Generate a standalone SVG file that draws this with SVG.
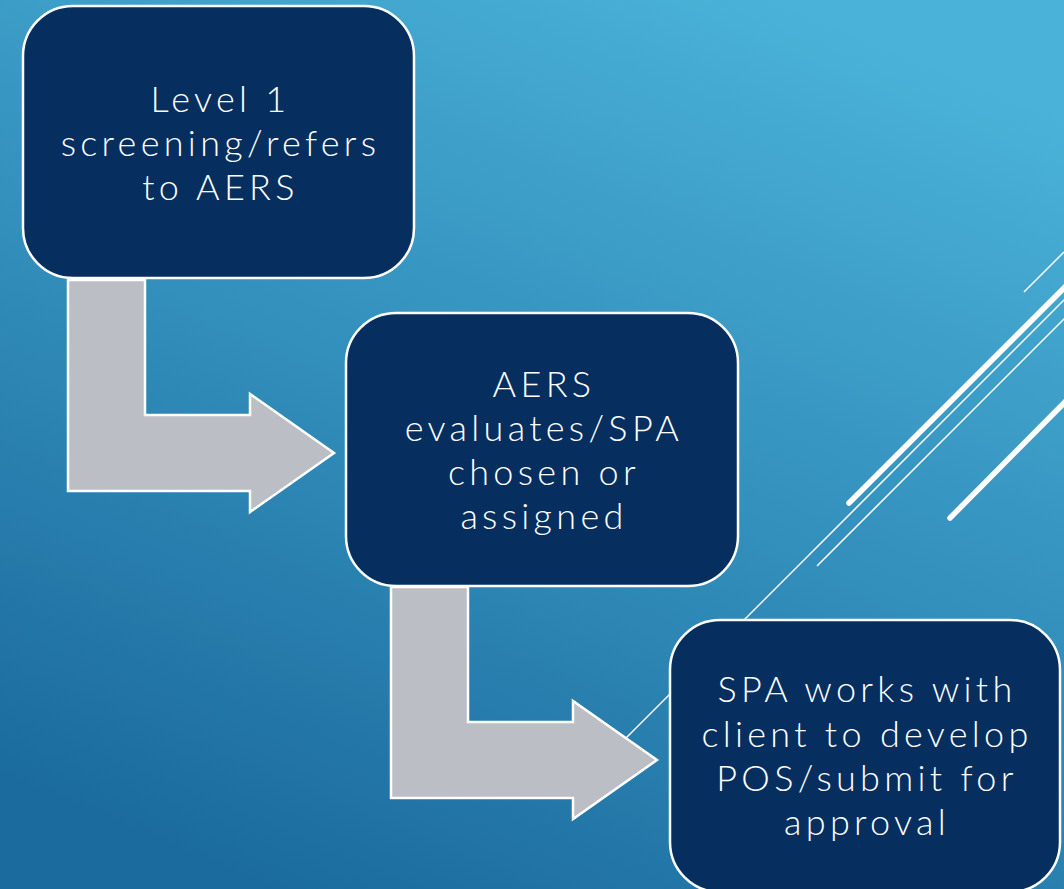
<svg xmlns="http://www.w3.org/2000/svg" width="1064" height="889" viewBox="0 0 1064 889">
  <defs>
    <linearGradient id="bg" x1="0.75" y1="0" x2="0.25" y2="1">
      <stop offset="0" stop-color="#4AB2D8"/>
      <stop offset="1" stop-color="#1B6B9E"/>
    </linearGradient>
    <style>
      .box { fill: #062F5F; stroke: #FFFFFF; stroke-width: 2.5; }
      .arrow { fill: #BCBEC5; stroke: #FFFFFF; stroke-width: 2.5; stroke-linejoin: miter; }
      .label { font-family: Lato, "Liberation Sans", sans-serif; font-weight: 300; font-size: 36px; letter-spacing: 4.3px; fill: #FFFFFF; text-anchor: middle; }
      .thin { stroke: #FFFFFF; stroke-width: 1.5; fill: none; }
      .thick { stroke: #FFFFFF; stroke-width: 5.5; stroke-linecap: round; fill: none; }
    </style>
  </defs>

  <!-- background -->
  <rect x="0" y="0" width="1064" height="889" fill="url(#bg)"/>

  <!-- decorative diagonal strokes -->
  <g id="decor">
    <line class="thin" x1="1024" y1="292" x2="1064" y2="252"/>
    <line class="thick" x1="849" y1="503" x2="1066" y2="286"/>
    <line class="thin" x1="620" y1="744" x2="1066" y2="298"/>
    <line class="thin" x1="817" y1="566" x2="1066" y2="317"/>
    <line class="thick" x1="950" y1="518" x2="1066" y2="401"/>
  </g>

  <!-- connectors: bent arrows -->
  <g id="connectors">
    <path class="arrow" d="M68,280 H145 V415 H250 V394 L334,453 L250,512 V491 H68 Z"/>
    <path class="arrow" d="M391,587 H468 V722 H573 V701 L657,760 L573,819 V798 H391 Z"/>
  </g>

  <g id="node1">
    <rect class="box" x="23" y="6" width="391" height="272" rx="50" ry="50"/>
    <text class="label" x="220.5" y="112">Level 1</text>
    <text class="label" x="220.5" y="156">screening/refers</text>
    <text class="label" x="220.5" y="200">to AERS</text>
  </g>

  <g id="node2">
    <rect class="box" x="346" y="313" width="392" height="273" rx="50" ry="50"/>
    <text class="label" x="544" y="397">AERS</text>
    <text class="label" x="544" y="441">evaluates/SPA</text>
    <text class="label" x="544" y="485">chosen or</text>
    <text class="label" x="544" y="529">assigned</text>
  </g>

  <g id="node3">
    <rect class="box" x="670" y="620" width="390" height="272" rx="50" ry="50"/>
    <text class="label" x="867" y="702">SPA works with</text>
    <text class="label" x="867" y="747">client to develop</text>
    <text class="label" x="867" y="791">POS/submit for</text>
    <text class="label" x="867" y="835">approval</text>
  </g>
</svg>
